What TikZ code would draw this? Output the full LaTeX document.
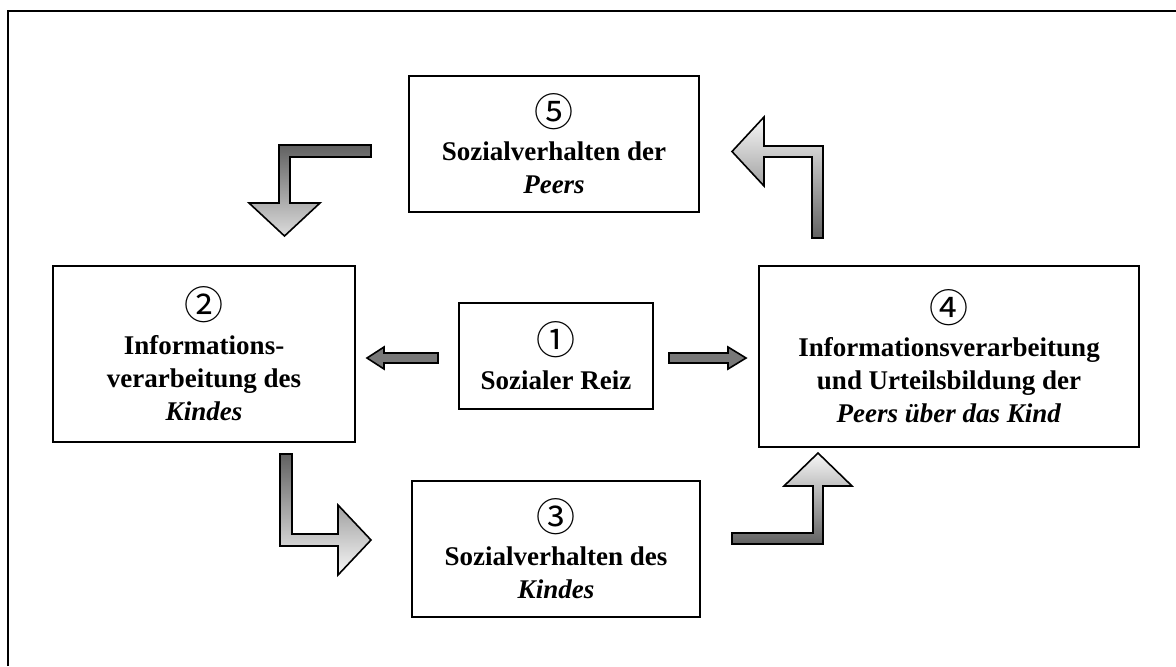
\documentclass[tikz,border=0pt]{standalone}
\usepackage{fontspec}
\setmainfont{Liberation Serif}
\newfontfamily\numfont{Noto Sans CJK JP}
\usetikzlibrary{calc}
\definecolor{dk}{gray}{0.38}
\definecolor{lt}{gray}{0.97}
\definecolor{ltb}{gray}{0.86}
\definecolor{mid}{gray}{0.47}
\newcommand\cnum[1]{\raisebox{-3.2pt}[13pt][0pt]{\mdseries\numfont\fontsize{19.5}{19.5}\selectfont #1}}
\begin{document}
\begin{tikzpicture}[x=0.5pt,y=-0.5pt,
  box/.style={draw=black, line width=1pt, rectangle, align=center, inner sep=0pt,
              font=\fontsize{13.5}{16.5}\selectfont\bfseries},
  bendarrow/.style={draw=black, line width=0.8pt, line join=miter},
  midarrow/.style={draw=black, line width=0.8pt, fill=mid, line join=miter}]
\useasboundingbox (0,0) rectangle (1176,666);
% frame lines
\draw[line width=1pt] (8,666) -- (8,11) -- (1176,11);
% boxes
\node[box, minimum width=145pt, minimum height=68pt] (b5) at (554,144)
  {\cnum{⑤}\\[4pt]Sozialverhalten der\\\textit{Peers}};
\node[box, minimum width=151pt, minimum height=88pt] (b2) at (204,354)
  {\cnum{②}\\[4pt]Informations-\\verarbeitung des\\\textit{Kindes}};
\node[box, minimum width=97pt, minimum height=53pt] (b1) at (556,356)
  {\cnum{①}\\[4pt]Sozialer Reiz};
\node[box, minimum width=190pt, minimum height=90.5pt] (b4) at (949,356.5)
  {\cnum{④}\\[4pt]Informationsverarbeitung\\und Urteilsbildung der\\\textit{Peers über das Kind}};
\node[box, minimum width=144pt, minimum height=68pt] (b3) at (556,549)
  {\cnum{③}\\[4pt]Sozialverhalten des\\\textit{Kindes}};
% bent block arrows
\path[bendarrow, top color=dk, bottom color=ltb]
  (371,145) -- (279,145) -- (279,203) -- (249,203) -- (284.5,236) -- (320,203)
  -- (290,203) -- (290,157) -- (371,157) -- cycle;
\path[bendarrow, top color=lt, bottom color=dk]
  (732,151.5) -- (764,117) -- (764,146) -- (823,146) -- (823,238) -- (812,238)
  -- (812,157) -- (764,157) -- (764,186) -- cycle;
\path[bendarrow, top color=dk, bottom color=lt]
  (280,454) -- (292,454) -- (292,534) -- (338,534) -- (338,505) -- (371,540)
  -- (338,575) -- (338,546) -- (280,546) -- cycle;
\path[bendarrow, top color=lt, bottom color=dk]
  (732,533) -- (813,533) -- (813,486) -- (784,486) -- (818,453) -- (852,486)
  -- (823,486) -- (823,544) -- (732,544) -- cycle;
% straight arrows from the social stimulus
\draw[midarrow] ($(b1.west)+(-20,-3)$) -- ($(b1.west)+(-74,-3)$) -- ($(b1.west)+(-74,-9)$)
  -- ($(b1.west)+(-91,2)$) -- ($(b1.west)+(-74,13)$) -- ($(b1.west)+(-74,7)$)
  -- ($(b1.west)+(-20,7)$) -- cycle;
\draw[midarrow] ($(b1.east)+(15,-3)$) -- ($(b1.east)+(74,-3)$) -- ($(b1.east)+(74,-9)$)
  -- ($(b1.east)+(92,2)$) -- ($(b1.east)+(74,13)$) -- ($(b1.east)+(74,7)$)
  -- ($(b1.east)+(15,7)$) -- cycle;
\end{tikzpicture}
\end{document}
